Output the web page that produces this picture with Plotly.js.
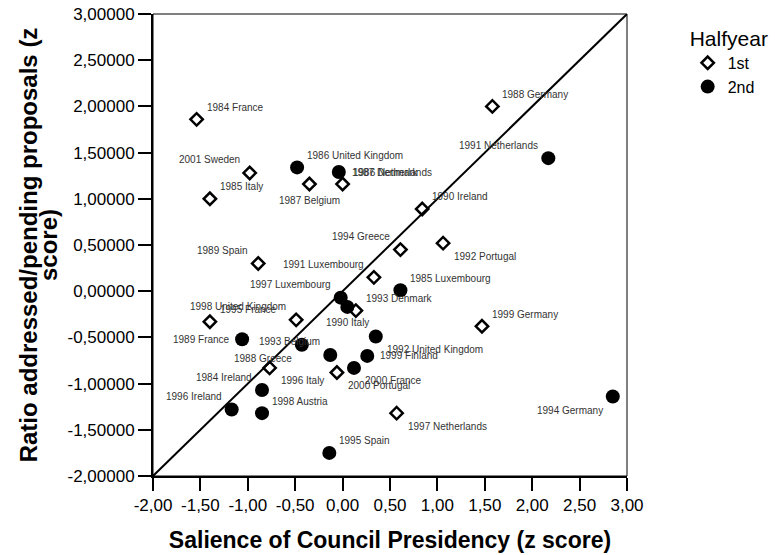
<!DOCTYPE html>
<html>
<head>
<meta charset="utf-8">
<script src="https://cdn.plot.ly/plotly-3.0.1.min.js"></script>
<style>html,body{margin:0;padding:0;background:#fff;}#chart{width:775px;height:555px;}</style>
</head>
<body>
<div id="chart"></div>
<script>
// ---- Data: 1st halfyear presidencies ----
const firstLabels = ["1984 France","1985 Italy","1986 Netherlands","1987 Belgium","1988 Germany","1989 Spain","1990 Ireland","1991 Luxembourg","1992 Portugal","1993 Denmark","1994 Greece","1995 France","1996 Italy","1997 Netherlands","1998 United Kingdom","1999 Germany","2000 Portugal","2001 Sweden"];
const firstX = [-1.54,-1.40,0.00,-0.35,1.58,-0.89,0.84,0.33,1.06,0.14,0.61,-1.40,-0.77,0.57,-0.49,1.47,-0.06,-0.98];
const firstY = [1.86,1.00,1.16,1.16,2.00,0.30,0.89,0.15,0.52,-0.21,0.45,-0.33,-0.83,-1.32,-0.31,-0.38,-0.88,1.28];

// ---- Data: 2nd halfyear presidencies ----
const secondLabels = ["1984 Ireland","1985 Luxembourg","1986 United Kingdom","1987 Denmark","1988 Greece","1989 France","1990 Italy","1991 Netherlands","1992 United Kingdom","1993 Belgium","1994 Germany","1995 Spain","1996 Ireland","1997 Luxembourg","1998 Austria","1999 Finland","2000 France"];
const secondX = [-0.85,0.61,-0.48,-0.04,-0.43,-1.06,0.05,2.17,0.35,-0.13,2.85,-0.14,-1.17,-0.02,-0.85,0.26,0.12];
const secondY = [-1.07,0.01,1.34,1.29,-0.58,-0.52,-0.17,1.44,-0.49,-0.69,-1.14,-1.75,-1.28,-0.07,-1.32,-0.70,-0.83];

// ---- Tick labels ----
const xTickVals = [-2,-1.5,-1,-0.5,0,0.5,1,1.5,2,2.5,3];
const xTickText = ["-2,00","-1,50","-1,00","-0,50","0,00","0,50","1,00","1,50","2,00","2,50","3,00"];
const yTickVals = [-2,-1.5,-1,-0.5,0,0.5,1,1.5,2,2.5,3];
const yTickText = ["-2,00000","-1,50000","-1,00000","-0,50000","0,00000","0,50000","1,00000","1,50000","2,00000","2,50000","3,00000"];

// ---- Label placement (style only) ----
const firstPos = ["tr","tr","tr","b","tr","tl","tr","tl","br","tr","tl","tr","br","br","tl","tr","br","tl"];
const secondPos = ["tl","tr","tr","r","bl","l","b","tl","br","tl","bl","tr","tl","tl","tr","r","br"];

const FONT = "Liberation Sans, Arial, sans-serif";
const posMap = {
  tr:{xanchor:"left",xshift:8,yshift:12},
  tl:{xanchor:"right",xshift:-8,yshift:13},
  br:{xanchor:"left",xshift:9,yshift:-13},
  bl:{xanchor:"right",xshift:-8,yshift:-14},
  r:{xanchor:"left",xshift:11,yshift:0},
  l:{xanchor:"right",xshift:-10,yshift:0},
  b:{xanchor:"center",xshift:0,yshift:-16}
};
function makeAnn(labels, xs, ys, pos){
  return labels.map((t,i)=>{
    const p = posMap[pos[i]];
    return {x:xs[i], y:ys[i], xref:"x", yref:"y", text:t, showarrow:false,
      xanchor:p.xanchor, yanchor:"middle", xshift:p.xshift, yshift:p.yshift,
      font:{family:FONT, size:10, color:"#333333"}};
  });
}
const annotations = makeAnn(firstLabels, firstX, firstY, firstPos).concat(makeAnn(secondLabels, secondX, secondY, secondPos));

const traces = [
  {x:[-2,3], y:[-2,3], mode:"lines", line:{color:"#000", width:2}, showlegend:false, hoverinfo:"skip"},
  {x:firstX, y:firstY, text:firstLabels, mode:"markers", name:"1st", type:"scatter",
   marker:{symbol:"diamond-open", size:9.5, color:"#000", line:{color:"#000", width:2.5}}},
  {x:secondX, y:secondY, text:secondLabels, mode:"markers", name:"2nd", type:"scatter",
   marker:{symbol:"circle", size:14, color:"#000", line:{width:0}}}
];

const layout = {
  width:775, height:555,
  margin:{l:153, r:148, t:14, b:79, autoexpand:false},
  paper_bgcolor:"#fff", plot_bgcolor:"#fff",
  font:{family:FONT, color:"#000"},
  showlegend:true,
  legend:{x:1.128, y:0.99, xanchor:"left", yanchor:"top",
    title:{text:"Halfyear", font:{family:FONT, size:21, color:"#000"}},
    font:{family:FONT, size:16, color:"#000"}, tracegroupgap:0, itemsizing:"trace"},
  xaxis:{range:[-2,3], tickvals:xTickVals, ticktext:xTickText, showgrid:false, zeroline:false,
    showline:true, linecolor:"#000", linewidth:2, ticks:"outside", ticklen:13, tickwidth:2, tickcolor:"#000",
    tickfont:{family:FONT, size:17, color:"#000"}, automargin:false,
    title:{text:"Salience of Council Presidency (z score)", font:{family:FONT, size:23, color:"#000", weight:"bold"}, standoff:17}},
  yaxis:{range:[-2,3], tickvals:yTickVals, ticktext:yTickText, showgrid:false, zeroline:false,
    showline:true, linecolor:"#000", linewidth:2, ticks:"outside", ticklen:13, tickwidth:2, tickcolor:"#000",
    tickfont:{family:FONT, size:17, color:"#000"}, automargin:false,
    title:{text:"Ratio addressed/pending proposals (z<br>score)", font:{family:FONT, size:24, color:"#000", weight:"bold"}, standoff:0}},
  shapes:[{type:"rect", xref:"paper", yref:"paper", x0:0, x1:1, y0:0, y1:1, line:{color:"#000", width:1}}],
  annotations:annotations
};
Plotly.newPlot("chart", traces, layout, {displayModeBar:false, staticPlot:true}).then(function(gd){
  // tighten the line spacing of the two-line y-axis title and nudge it right
  var lines = gd.querySelectorAll('.g-ytitle text tspan.line');
  if (lines.length > 1) { lines[1].setAttribute('dy', '0.85em'); }
  var g = gd.querySelector('.g-ytitle');
  if (g) { g.setAttribute('transform', 'translate(8,0)'); }
});
</script>
</body>
</html>
